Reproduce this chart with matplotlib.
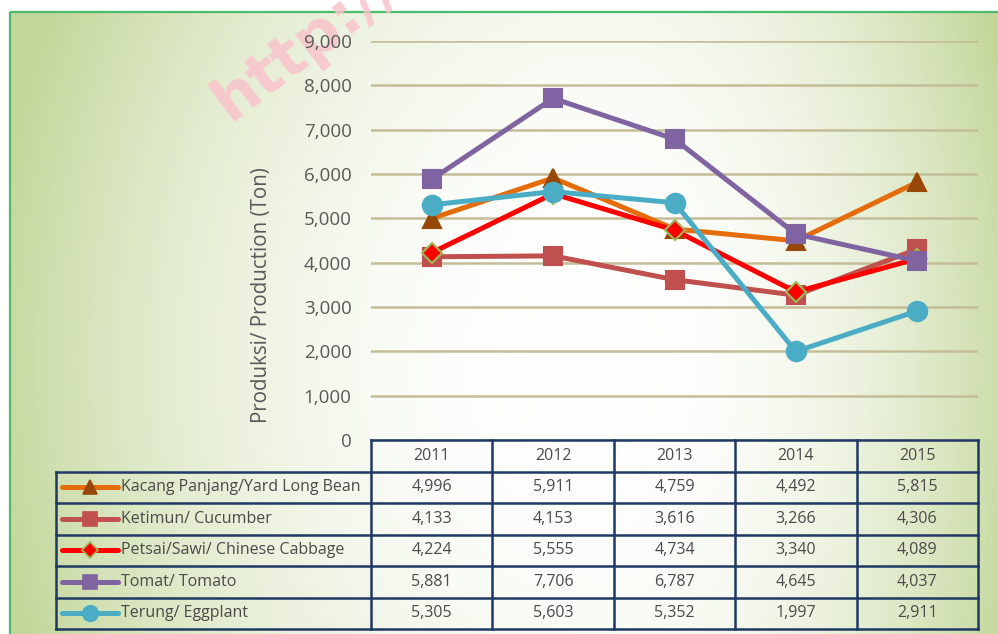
import numpy as np
import matplotlib
matplotlib.use("Agg")
import matplotlib.pyplot as plt
from matplotlib.patches import Rectangle
from matplotlib.lines import Line2D

plt.rcParams['font.family'] = ['Open Sans', 'DejaVu Sans']

years = ['2011', '2012', '2013', '2014', '2015']
series_names = ['Kacang Panjang/Yard Long Bean', 'Ketimun/ Cucumber',
                'Petsai/Sawi/ Chinese Cabbage', 'Tomat/ Tomato', 'Terung/ Eggplant']
kacang = [4996, 5911, 4759, 4492, 5815]
ketimun = [4133, 4153, 3616, 3266, 4306]
petsai = [4224, 5555, 4734, 3340, 4089]
tomat = [5881, 7706, 6787, 4645, 4037]
terung = [5305, 5603, 5352, 1997, 2911]
all_values = [kacang, ketimun, petsai, tomat, terung]

# line colour, marker, marker face, marker edge, marker size
styles = [
    ('#E46C0A', '^', '#974806', '#974806', 13),
    ('#C0504D', 's', '#C0504D', '#C0504D', 13),
    ('#FF0000', 'D', '#FF0000', '#9BBB59', 10),
    ('#8064A2', 's', '#8064A2', '#8064A2', 13),
    ('#4BACC6', 'o', '#4BACC6', '#4BACC6', 14),
]

W, H = 998, 634
fig = plt.figure(figsize=(W / 100, H / 100), dpi=100)

# background: off-centre radial gradient, white in the middle, olive green at the edges
bg = fig.add_axes([0, 0, 1, 1], zorder=-10)
yy, xx = np.mgrid[0:H, 0:W]
cx, cy = 600, 360
rx = np.where(xx < cx, 610, 430)
d = np.sqrt(((xx - cx) / rx) ** 2 + ((yy - cy) / 780) ** 2)
t = np.clip(d, 0, 1) ** 2.2
green = np.array([0xc4, 0xd7, 0x9b]) / 255
img = (1 - t[..., None]) * np.ones(3) + t[..., None] * green
img[:12, :] = 1
img[:, :10] = 1
bg.imshow(img, extent=[0, W, H, 0], aspect='auto', interpolation='bilinear')
bg.set_xlim(0, W)
bg.set_ylim(H, 0)
bg.axis('off')
bg.add_patch(Rectangle((10.5, 12), W, H, fill=False, edgecolor='#4CBB6C', lw=1.6))
bg.text(230, 122, 'http://', fontsize=44, fontweight='bold', color='#F9C3CB', alpha=0.85,
        rotation=37, rotation_mode='anchor', ha='left', va='baseline', family='DejaVu Sans')


def fx(px):
    return px / W


def fy(py):
    return 1 - py / H


# main chart
x0, x1, ytop, ybot = 371, 978, 41, 440
ax = fig.add_axes([fx(x0), fy(ybot), fx(x1) - fx(x0), fy(ytop) - fy(ybot)])
ax.set_facecolor('none')
xs = np.arange(len(years))
for vals, (lc, mk, mf, me, ms) in zip(all_values, styles):
    ax.plot(xs, vals, color=lc, lw=3.6, marker=mk, markersize=ms, markerfacecolor=mf,
            markeredgecolor=me, markeredgewidth=1.5, solid_joinstyle='miter', zorder=3)
ax.set_xlim(-0.5, len(years) - 0.5)
ax.set_ylim(0, 9000)
ax.set_yticks(np.arange(0, 9001, 1000))
ax.set_yticklabels(['{:,}'.format(v) for v in range(0, 9001, 1000)])
ax.set_xticks([])
ax.tick_params(axis='y', length=0, pad=14, labelsize=13.5, labelcolor='#595959')
ax.grid(axis='y', color='#C4BD97', lw=1.8)
ax.set_axisbelow(True)
for s in ax.spines.values():
    s.set_visible(False)
fig.text(fx(262), fy(295), 'Produksi/ Production (Ton)', rotation=90, ha='center', va='center',
         fontsize=14.8, color='#595959')

# data table
unit = (x1 - x0) / len(years)
tleft = 56
tb = fig.add_axes([fx(tleft), fy(629), fx(x1) - fx(tleft), fy(440) - fy(629)])
tb.set_facecolor('none')
xl = -0.5 - (x0 - tleft) / unit
tb.set_xlim(xl, len(years) - 0.5)
nrows = len(series_names) + 1
tb.set_ylim(nrows, 0)
tb.axis('off')
border = dict(color='#1F3864', lw=1.8, solid_capstyle='projecting', clip_on=False)
tb.plot([-0.5, len(years) - 0.5], [0, 0], **border)
for r in range(1, nrows + 1):
    tb.plot([xl, len(years) - 0.5], [r, r], **border)
for c in range(len(years) + 1):
    tb.plot([c - 0.5, c - 0.5], [0, nrows], **border)
tb.plot([xl, xl], [1, nrows], **border)

for c, yr in enumerate(years):
    tb.text(c, 0.5, yr, ha='center', va='center', fontsize=11.5, color='#4A4A4A')
for r, (name, vals, (lc, mk, mf, me, ms)) in enumerate(zip(series_names, all_values, styles)):
    yc = r + 1.5
    for c, v in enumerate(vals):
        tb.text(c, yc, '{:,}'.format(v), ha='center', va='center', fontsize=11.5, color='#4A4A4A')
    lx0 = xl + 6 / unit
    lx1 = xl + 62 / unit
    tb.add_line(Line2D([lx0, lx1], [yc, yc], color=lc, lw=3.6, solid_capstyle='round', clip_on=False))
    tb.add_line(Line2D([(lx0 + lx1) / 2], [yc], marker=mk, markersize=ms * 0.8, markerfacecolor=mf,
                       markeredgecolor=me, markeredgewidth=1.2, clip_on=False))
    tb.text(xl + 65 / unit, yc, name, ha='left', va='center', fontsize=11.5, color='#4A4A4A')

fig.savefig('out.png', dpi=100)
